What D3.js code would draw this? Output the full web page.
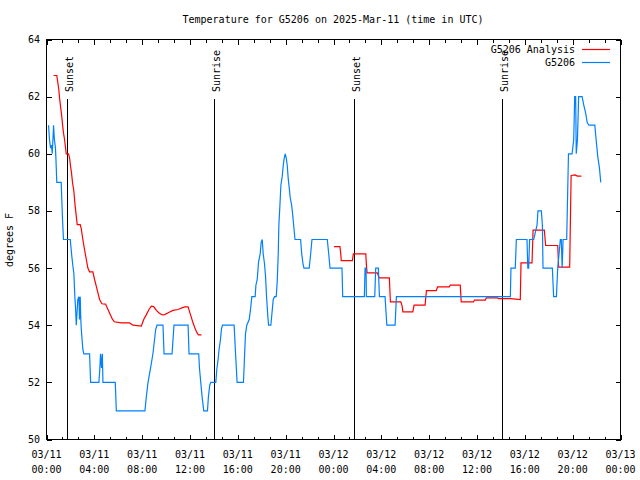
<!DOCTYPE html>
<html>
<head>
<meta charset="utf-8">
<script src="https://cdn.jsdelivr.net/npm/d3@7"></script>
<style>
  html, body { margin: 0; padding: 0; background: #fff; }
  svg { display: block; }
  text { font-family: "DejaVu Sans Mono", "Liberation Mono", monospace; font-size: 10px; fill: #000; }
</style>
</head>
<body>
<svg id="chart" width="640" height="480"></svg>
<script>
// ---------------- data ----------------
const titleText = "Temperature for G5206 on 2025-Mar-11 (time in UTC)";
const yLabelText = "degrees F";
const seriesNames = ["G5206 Analysis", "G5206"];
const seriesColors = ["#ff0000", "#0080ff"];

// hours since 2025-03-11 00:00 UTC
const stationHours = [0.17,0.25,0.34,0.42,0.48,0.55,0.59,0.66,0.75,0.8,0.86,1.23,1.28,1.35,1.42,1.99,2.03,2.12,2.2,2.29,2.37,2.43,2.49,2.56,2.62,2.71,2.76,2.82,2.86,2.91,3.04,3.12,3.6,3.69,4.38,4.45,4.52,4.6,4.67,4.72,5.75,5.84,8.23,8.35,8.49,8.7,8.9,9.13,9.24,9.74,9.83,10.5,10.66,11.84,11.92,12.73,12.79,12.9,13.01,13.15,13.46,13.54,13.65,13.74,14.16,14.24,14.35,14.43,14.55,14.63,14.72,15.69,15.81,15.94,16.47,16.53,16.64,16.75,16.95,17.06,17.17,17.45,17.51,17.62,17.73,17.87,17.95,18.04,18.12,18.23,18.32,18.4,18.51,18.57,18.76,18.85,18.96,19.07,19.21,19.29,19.38,19.43,19.52,19.6,19.71,19.8,19.88,19.96,20.05,20.13,20.21,20.3,20.38,20.5,20.58,20.67,20.78,21.25,21.34,21.45,21.53,21.97,22.09,22.2,23.48,23.6,23.71,24.71,24.77,26.58,26.64,26.72,26.75,27.45,27.53,27.75,27.84,28.31,28.46,29.15,29.26,38.79,38.84,39.2,39.29,40.18,40.25,40.32,40.4,40.74,41.02,41.1,41.38,41.47,41.52,42.3,42.41,42.64,42.75,42.97,43.05,43.12,43.2,43.5,43.6,43.65,43.95,44.09,44.17,44.25,44.3,44.4,44.5,44.79,44.93,45.1,45.21,45.35,45.85,45.96,46.1,46.24,46.35];
const stationTemps = [61,60.5,60.2,60.3,60,60.6,61,60.5,60.2,59.7,59,59,58.4,57.6,57,57,56.8,56.4,56.1,55.8,55,54.6,54,54.5,54.9,55,54.2,55,54.3,53.85,53.15,53,53,52,52,52.4,53,52.5,53,52,52,51,51,51.5,52,52.5,53,53.85,54,54,53,53,54,54,53,53,52.5,52,51.5,51,51,51.5,51.9,52,52,52.45,52.8,53.15,53.5,53.87,54,54,53,52,52,52.6,53.7,54,54.2,54.55,55,55,55.4,55.6,56.2,56.5,56.9,57,56.5,56.15,55.7,55,54.3,54,54,54.4,54.9,55,55,55.5,56.5,57.5,58.2,58.9,59.2,59.6,59.85,60,59.85,59.6,59.15,58.8,58.46,58.2,57.9,57.5,57,57,56.5,56.15,56,56,56.5,57,57,56.5,56,56,55,55,56,56,55,55,56,56,55,55,54,54,55,55,56,56,57,57,56,56,57,57,57.5,58,58,57.5,56,56,55,55,56,57,57,56,57,57,59,60,60,60.5,62,62,60,60.5,62,62,61.7,61.4,61.1,61,61,60.5,59.9,59.5,59];

// null marks the gap in the analysis series
const analysisHours = [0.59,0.86,0.95,1.03,1.09,1.17,1.26,1.34,1.42,1.51,1.59,1.65,1.84,1.93,2.01,2.09,2.18,2.29,2.37,2.49,2.57,2.82,2.91,3.04,3.18,3.33,3.46,3.6,3.88,4.02,4.16,4.3,4.44,4.63,4.94,5.14,5.34,5.5,5.67,6.26,6.95,7.23,7.93,8.13,8.35,8.57,8.77,8.96,9.19,9.41,9.69,9.88,10.3,10.58,11.0,11.28,11.56,11.84,12.04,12.21,12.4,12.59,12.71,12.96,
  18.0,
  24.04,24.54,24.6,24.65,25.58,25.66,26.7,26.75,26.81,27.67,27.81,28.67,28.76,29.63,29.74,29.8,30.63,30.74,31.66,31.77,32.59,32.7,33.68,33.76,34.6,34.68,35.71,35.79,36.69,36.78,37.72,37.78,38.79,39.62,39.68,40.6,40.69,41.63,41.74,42.75,42.83,43.75,43.81,43.87,44.2,44.4,44.73];
const analysisTemps = [62.74,62.74,62.48,62.25,61.96,61.67,61.37,61.03,60.73,60.5,60.21,60.0,60.0,59.86,59.57,59.33,58.98,58.69,58.28,57.82,57.52,57.52,57.37,57.0,56.65,56.3,56.0,55.87,55.87,55.6,55.37,55.13,54.9,54.75,54.74,54.55,54.37,54.22,54.12,54.08,54.08,54.0,53.97,54.2,54.37,54.55,54.67,54.65,54.52,54.43,54.36,54.37,54.46,54.52,54.55,54.6,54.64,54.64,54.37,54.14,53.91,53.73,53.66,53.66,
  null,
  56.75,56.75,56.53,56.26,56.26,56.5,56.5,56.12,55.83,55.83,55.66,55.66,54.82,54.82,54.67,54.47,54.47,54.7,54.7,55.21,55.21,55.34,55.34,55.4,55.4,54.82,54.82,54.88,54.88,54.96,54.96,54.93,54.93,54.9,56.18,56.18,57.33,57.33,56.79,56.79,56.03,56.03,57.64,59.24,59.26,59.22,59.22];

const sunEventHours = [1.76, 14.07, 25.78, 38.1];
const sunEventLabels = ["Sunset", "Sunrise", "Sunset", "Sunrise"];

const yTickValues = [50, 52, 54, 56, 58, 60, 62, 64];
const xStart = Date.UTC(2025, 2, 11, 0, 0);
const xEnd = Date.UTC(2025, 2, 13, 0, 0);

// ---------------- chart ----------------
const svg = d3.select("#chart");
const H = 3600 * 1000;
const toDate = h => new Date(xStart + h * H);

const x = d3.scaleUtc().domain([new Date(xStart), new Date(xEnd)]).range([46.5, 620.5]);
const y = d3.scaleLinear().domain([50, 64]).range([439.5, 39.5]);

const majorTicks = d3.utcHour.every(4).range(new Date(xStart), new Date(xEnd + 1));
const minorTicks = d3.range(0, 37).map(i => new Date(xStart + i * 80 * 60 * 1000))
  .filter(d => (d - xStart) % (4 * H) !== 0);

// title
svg.append("text").attr("x", 333).attr("y", 23).attr("text-anchor", "middle").text(titleText);

// y label
svg.append("text").attr("transform", "translate(13,240) rotate(-90)")
  .attr("text-anchor", "middle").text(yLabelText);

const axisStyle = g => { g.select(".domain").remove(); g.selectAll("line").attr("stroke", "#000").attr("shape-rendering", "crispEdges"); };

// bottom / top major ticks
svg.append("g").attr("transform", "translate(0,439.5)")
  .call(d3.axisBottom(x).tickValues(majorTicks).tickSize(-5).tickFormat(""))
  .call(axisStyle);
svg.append("g").attr("transform", "translate(0,39.5)")
  .call(d3.axisTop(x).tickValues(majorTicks).tickSize(-5).tickFormat(""))
  .call(axisStyle);
// minor ticks
svg.append("g").attr("transform", "translate(0,439.5)")
  .call(d3.axisBottom(x).tickValues(minorTicks).tickSize(-3).tickFormat(""))
  .call(axisStyle);
svg.append("g").attr("transform", "translate(0,39.5)")
  .call(d3.axisTop(x).tickValues(minorTicks).tickSize(-3).tickFormat(""))
  .call(axisStyle);

// x labels (two lines)
const fmtDay = d3.utcFormat("%m/%d"), fmtTime = d3.utcFormat("%H:%M");
const xl = svg.append("g");
majorTicks.forEach(d => {
  xl.append("text").attr("x", x(d)).attr("y", 458).attr("text-anchor", "middle").text(fmtDay(d));
  xl.append("text").attr("x", x(d)).attr("y", 473).attr("text-anchor", "middle").text(fmtTime(d));
});

// y axes
svg.append("g").attr("transform", "translate(46.5,0)")
  .call(d3.axisLeft(y).tickValues(yTickValues).tickSize(-5).tickFormat(""))
  .call(axisStyle);
svg.append("g").attr("transform", "translate(620.5,0)")
  .call(d3.axisRight(y).tickValues(yTickValues).tickSize(-5).tickFormat(""))
  .call(axisStyle);
yTickValues.forEach(v => {
  svg.append("text").attr("x", 40).attr("y", y(v)).attr("dy", "0.35em")
    .attr("text-anchor", "end").text(v);
});

// frame
svg.append("rect").attr("x", 46.5).attr("y", 39.5).attr("width", 574).attr("height", 400)
  .attr("fill", "none").attr("stroke", "#000").attr("shape-rendering", "crispEdges");

// sunrise / sunset lines
sunEventHours.forEach((h, i) => {
  const px = Math.round(x(toDate(h)) - 0.5) + 0.5;
  svg.append("line").attr("x1", px).attr("x2", px).attr("y1", 99).attr("y2", 439.5)
    .attr("stroke", "#000").attr("shape-rendering", "crispEdges");
  svg.append("text").attr("transform", `translate(${px + 5.5},92) rotate(-90)`)
    .attr("text-anchor", "start").text(sunEventLabels[i]);
});

// series
const line = d3.line()
  .defined(d => d[1] !== null)
  .x(d => x(toDate(d[0])))
  .y(d => y(d[1]));

const analysisData = analysisHours.map((h, i) => [h, analysisTemps[i]]);
const stationData = stationHours.map((h, i) => [h, stationTemps[i]]);

svg.append("path").datum(analysisData).attr("d", line)
  .attr("fill", "none").attr("stroke", seriesColors[0]).attr("stroke-width", 1.2);
svg.append("path").datum(stationData).attr("d", line)
  .attr("fill", "none").attr("stroke", seriesColors[1]).attr("stroke-width", 1.2);

// legend
seriesNames.forEach((name, i) => {
  const by = 53 + i * 13;
  svg.append("text").attr("x", 575).attr("y", by).attr("text-anchor", "end").text(name);
  svg.append("line").attr("x1", 582).attr("x2", 610).attr("y1", by - 3.5).attr("y2", by - 3.5)
    .attr("stroke", seriesColors[i]).attr("stroke-width", 1.2);
});
</script>
</body>
</html>
